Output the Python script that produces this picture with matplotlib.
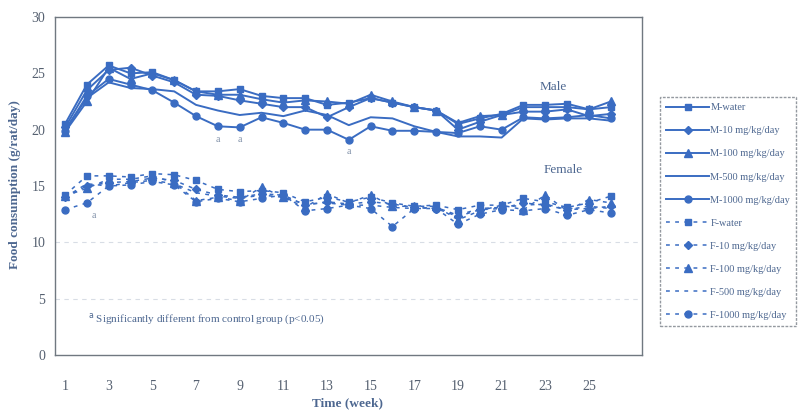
import matplotlib
matplotlib.use("Agg")
import matplotlib.pyplot as plt

weeks = list(range(1, 27))

m_water = [20.5, 24.0, 25.7, 25.0, 25.1, 24.4, 23.4, 23.4, 23.6, 23.0, 22.8, 22.8, 22.2,
           22.4, 22.8, 22.4, 22.0, 21.7, 20.5, 21.0, 21.4, 22.2, 22.2, 22.3, 21.8, 22.0]
m_10 = [20.2, 23.5, 25.3, 25.5, 24.8, 24.2, 23.1, 23.0, 22.6, 22.3, 22.0, 22.0, 21.1,
        22.0, 22.8, 22.4, 22.0, 21.7, 20.0, 20.7, 21.3, 21.6, 21.6, 21.8, 21.2, 21.4]
m_100 = [19.8, 22.5, 25.5, 24.5, 25.0, 24.4, 23.4, 23.1, 23.1, 22.7, 22.4, 22.6, 22.5,
         22.3, 23.1, 22.5, 22.0, 21.7, 20.6, 21.2, 21.3, 22.0, 22.0, 22.0, 21.8, 22.5]
m_500 = [20.0, 22.8, 24.2, 23.7, 23.6, 23.4, 22.2, 21.7, 21.3, 21.5, 21.2, 21.7, 21.3,
         20.4, 21.1, 21.0, 20.3, 19.8, 19.4, 19.4, 19.3, 21.0, 20.9, 21.0, 21.0, 20.8]
m_1000 = [19.9, 23.0, 24.5, 24.0, 23.5, 22.4, 21.2, 20.3, 20.2, 21.1, 20.6, 20.0, 20.0,
          19.1, 20.3, 19.9, 19.9, 19.8, 19.7, 20.3, 20.0, 21.1, 21.0, 21.1, 21.3, 21.0]

f_water = [14.2, 15.9, 15.9, 15.8, 16.1, 16.0, 15.5, 14.7, 14.5, 14.6, 14.4, 13.6, 14.0,
           13.6, 14.0, 13.5, 13.2, 13.3, 12.9, 13.3, 13.3, 13.9, 13.6, 13.1, 13.5, 14.1]
f_10 = [14.0, 15.0, 15.3, 15.4, 15.7, 15.5, 14.7, 14.2, 14.0, 14.3, 14.2, 13.3, 13.6,
        13.4, 13.6, 13.4, 13.1, 13.0, 12.3, 12.9, 13.0, 13.5, 13.3, 12.9, 13.0, 13.2]
f_100 = [14.1, 14.8, 15.6, 15.6, 15.9, 15.3, 13.7, 14.0, 13.7, 14.9, 14.0, 13.1, 14.3,
         13.5, 14.2, 13.2, 13.2, 13.2, 12.0, 12.8, 13.3, 12.9, 14.2, 12.8, 13.8, 13.5]
f_500 = [14.0, 15.2, 15.0, 15.3, 15.5, 15.2, 14.4, 14.1, 13.9, 14.2, 14.0, 13.4, 13.5,
         13.3, 13.3, 13.1, 13.0, 13.1, 12.4, 13.0, 13.1, 13.3, 13.4, 12.9, 13.2, 13.0]
f_1000 = [12.9, 13.5, 15.0, 15.1, 15.4, 15.1, 13.6, 13.9, 13.6, 13.9, 14.2, 12.8, 13.0,
          13.3, 13.0, 11.4, 13.0, 13.0, 11.6, 12.5, 12.9, 12.8, 13.0, 12.4, 12.9, 12.6]

labels = ["M-water", "M-10 mg/kg/day", "M-100 mg/kg/day", "M-500 mg/kg/day",
          "M-1000 mg/kg/day", "F-water", "F-10 mg/kg/day", "F-100 mg/kg/day",
          "F-500 mg/kg/day", "F-1000 mg/kg/day"]
series = [m_water, m_10, m_100, m_500, m_1000, f_water, f_10, f_100, f_500, f_1000]
markers = ["s", "D", "^", None, "o", "s", "D", "^", None, "o"]
msizes = [5, 4, 5.5, 0, 5, 5, 4, 5.5, 0, 5]

x_ticks = list(range(1, 27, 2))
y_ticks = [0, 5, 10, 15, 20, 25, 30]

sig_marks = [(8, 19.1), (9, 19.1), (14, 18.1), (2.3, 12.4)]

blue = "#3a6cc2"
txt = "#4d6790"
plt.rcParams['font.family'] = ['Liberation Serif', 'DejaVu Serif']

fig = plt.figure(figsize=(8.01, 4.11), dpi=100)
ax = fig.add_axes([55/801, 1-355/411, (642-55)/801, (355-17)/411])

handles = []
for i, (lab, ys) in enumerate(zip(labels, series)):
    ls = "-" if i < 5 else (0, (2.5, 3.5))
    lw = 1.4 if i < 5 else 1.1
    h, = ax.plot(weeks, ys, linestyle=ls, color=blue, lw=lw,
                 marker=markers[i] if markers[i] else None, ms=msizes[i],
                 mfc=blue, mec=blue, label=lab)
    handles.append(h)

ax.set_xlim(0.54, 27.43)
ax.set_ylim(0, 30)
ax.set_xticks(x_ticks)
ax.set_yticks(y_ticks)
ax.tick_params(axis='x', length=0, pad=18, labelsize=10, labelcolor="#556070")
ax.tick_params(axis='y', length=0, pad=7, labelsize=10, labelcolor="#556070")
for y in [5, 10]:
    ax.axhline(y, color="#d8dde5", lw=0.8, ls=(0, (4, 4)), zorder=0)
for s in ax.spines.values():
    s.set_color("#707880")
    s.set_linewidth(1.0)

fig.text(348/801, 1-403/411, "Time (week)", fontsize=9.5, fontweight='bold',
         color=txt, ha='center', va='center')
fig.text(15/801, 1-185/411, "Food consumption (g/rat/day)", fontsize=9.5,
         fontweight='bold', color=txt, ha='center', va='center', rotation=90)

ax.text(23.35, 23.8, "Male", fontsize=9.5, color=txt, ha='center', va='center')
ax.text(23.8, 16.4, "Female", fontsize=9.5, color=txt, ha='center', va='center')
for (xw, yv) in sig_marks:
    ax.text(xw, yv, "a", fontsize=7, color="#8090a8", ha='center', va='center')
ax.text(2.05, 3.2, r"$^{\rm a}$ Significantly different from control group (p<0.05)",
        fontsize=8, color=txt, ha='left', va='center')

leg = fig.legend(handles=handles, loc='upper left', bbox_to_anchor=(660/801, 1-97/411),
                 frameon=True, fontsize=7.4, labelspacing=1.35, handlelength=4.2,
                 handletextpad=0.1, borderpad=0.6, borderaxespad=0.0, fancybox=False)
leg.get_frame().set_edgecolor("#7a8088")
leg.get_frame().set_linestyle((0, (2, 1)))
leg.get_frame().set_linewidth(1.0)
for t in leg.get_texts():
    t.set_color(txt)

fig.savefig("out.png", dpi=100)
